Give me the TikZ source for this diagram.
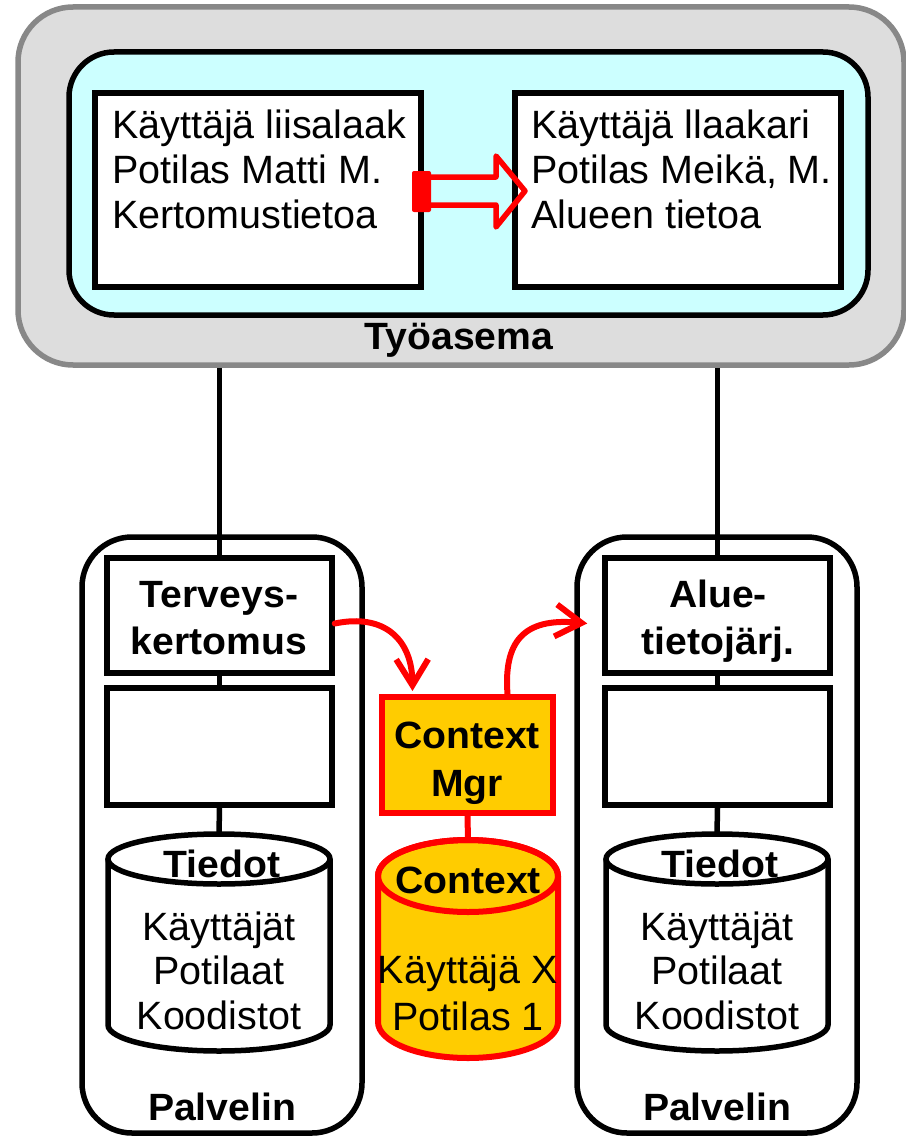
\documentclass[tikz,border=0pt]{standalone}
\usepackage{fontspec}
\setmainfont{Liberation Sans}[BoldFeatures={FakeStretch=1.03}]
\usetikzlibrary{arrows.meta}
\definecolor{wsgray}{HTML}{DDDDDD}
\definecolor{wsborder}{HTML}{888888}
\definecolor{cyanfill}{HTML}{CCFFFF}
\definecolor{ctxfill}{HTML}{FFCC00}
\definecolor{ctxred}{HTML}{FF0000}
\tikzset{
  reg/.style={font=\fontsize{39.5}{44}\selectfont, inner sep=0pt},
  bld/.style={font=\fontsize{38}{42}\selectfont\bfseries, inner sep=0pt},
  blk/.style={draw=black, line width=5.5pt},
  boxw/.style={blk, fill=white, inner sep=0pt},
  redln/.style={draw=ctxred, line width=6pt},
  redarr/.style={redln, -{Straight Barb[length=26pt,width=32pt]}, line cap=round, line join=round},
}
\begin{document}
\begin{tikzpicture}[x=1pt,y=-1pt]
\useasboundingbox (0,0) rectangle (905,1137);

% workstation
\node[draw=wsborder, line width=5.5pt, fill=wsgray, rounded corners=55pt,
      minimum width=886pt, minimum height=358pt, inner sep=0pt] (ws) at (461,186) {};
\node[blk, fill=cyanfill, rounded corners=45pt, minimum width=799pt,
      minimum height=263pt, inner sep=0pt] (cy) at (468.5,183.5) {};
\node[boxw, minimum width=326pt, minimum height=194pt] (lb) at (258,190) {};
\node[boxw, minimum width=326pt, minimum height=194pt] (rb) at (678,190) {};

\node[reg, anchor=base west] (l1) at (112,139) {Käyttäjä liisalaak};
\node[reg, anchor=base west] (l2) at (112,183) {Potilas Matti M.};
\node[reg, anchor=base west] (l3) at (112,228) {Kertomustietoa};
\node[reg, anchor=base west] (r1) at (531,139) {Käyttäjä llaakari};
\node[reg, anchor=base west] (r2) at (531,183) {Potilas Meikä, M.};
\node[reg, anchor=base west] (r3) at (531,228) {Alueen tietoa};

% block arrow
\fill[ctxred, rounded corners=2pt] (412,171) rectangle (431,212);
\draw[redln, line width=5.5pt, line join=round] (429,177) -- (496,177) -- (496,156) -- (525,191) -- (496,227) -- (496,205) -- (429,205);

\node[bld, anchor=base] (wst) at (459,349) {Työasema};

% servers
\node[blk, fill=white, rounded corners=50pt, minimum width=280pt,
      minimum height=596pt, inner sep=0pt] (ls) at (222,835) {};
\node[blk, fill=white, rounded corners=50pt, minimum width=280pt,
      minimum height=596pt, inner sep=0pt] (rs) at (717,835) {};

\node[boxw, minimum width=225pt, minimum height=115pt] (tv) at (219.5,615.5) {};
\node[boxw, minimum width=225pt, minimum height=117pt] (eb1) at (219.5,746.5) {};
\node[boxw, minimum width=225pt, minimum height=115pt] (al) at (717.5,615.5) {};
\node[boxw, minimum width=225pt, minimum height=117pt] (eb2) at (717.5,746.5) {};

\node[bld, anchor=base] (tv1) at (219,607) {Terveys-};
\node[bld, anchor=base] (tv2) at (219,654) {kertomus};
\node[bld, anchor=base] (al1) at (718,607) {Alue-};
\node[bld, anchor=base] (al2) at (718,654) {tietojärj.};

% workstation to servers
\draw[blk] (ws.south -| tv.north) -- (tv.north);
\draw[blk] (ws.south -| al.north) -- (al.north);
\draw[blk] (tv.south) -- (eb1.north);
\draw[blk] (al.south) -- (eb2.north);

% cylinders
\coordinate (lcyl) at (219,834);
\coordinate (rcyl) at (717,834);
\draw[blk] (eb1.south) -- (lcyl);
\draw[blk] (eb2.south) -- (rcyl);
\draw[blk] (108,859) -- (108,1025) arc[start angle=180,end angle=0,x radius=111,y radius=26] -- (330,859);
\draw[blk] (219,859) ellipse[x radius=111, y radius=25];
\draw[blk] (606,859) -- (606,1025) arc[start angle=180,end angle=0,x radius=111,y radius=26] -- (828,859);
\draw[blk] (717,859) ellipse[x radius=111, y radius=25];

\node[bld, anchor=base] (lt0) at (222,877) {Tiedot};
\node[reg, anchor=base] (lt1) at (219,940) {Käyttäjät};
\node[reg, anchor=base] (lt2) at (219,984) {Potilaat};
\node[reg, anchor=base] (lt3) at (219,1029) {Koodistot};
\node[bld, anchor=base] (rt0) at (720,877) {Tiedot};
\node[reg, anchor=base] (rt1) at (717,940) {Käyttäjät};
\node[reg, anchor=base] (rt2) at (717,984) {Potilaat};
\node[reg, anchor=base] (rt3) at (717,1029) {Koodistot};

\node[bld, anchor=base] (lp) at (222,1120) {Palvelin};
\node[bld, anchor=base] (rp) at (717,1120) {Palvelin};

% context manager
\node[redln, fill=ctxfill, minimum width=171pt, minimum height=116pt, inner sep=0pt] (cm) at (467.5,755) {};
\node[bld, anchor=base] (cm1) at (467,748) {Context};
\node[bld, anchor=base] (cm2) at (467,796) {Mgr};

\coordinate (ccyl) at (468,840);
\draw[redln] (cm.south) -- (ccyl);
\filldraw[fill=ctxfill, draw=ctxred, line width=6pt] (378,876) -- (378,1022)
  arc[start angle=180,end angle=0,x radius=90,y radius=36] -- (558,876)
  arc[start angle=360,end angle=180,x radius=90,y radius=36] -- cycle;
\draw[redln] (468,876) ellipse[x radius=90, y radius=36];
\node[bld, anchor=base] (cc0) at (468,893) {Context};
\node[reg, anchor=base] (cc1) at (468,983) {Käyttäjä X};
\node[reg, anchor=base] (cc2) at (468,1030) {Potilas 1};

% curved red arrows
\draw[redarr] ([yshift=-8pt]tv.east) .. controls (385,613) and (412,640) .. ([xshift=-55pt,yshift=3pt]cm.north);
\draw[redarr] ([xshift=40pt]cm.north) .. controls (503,635) and (530,618) .. ([xshift=-15pt,yshift=-8pt]al.west);
\end{tikzpicture}
\end{document}
